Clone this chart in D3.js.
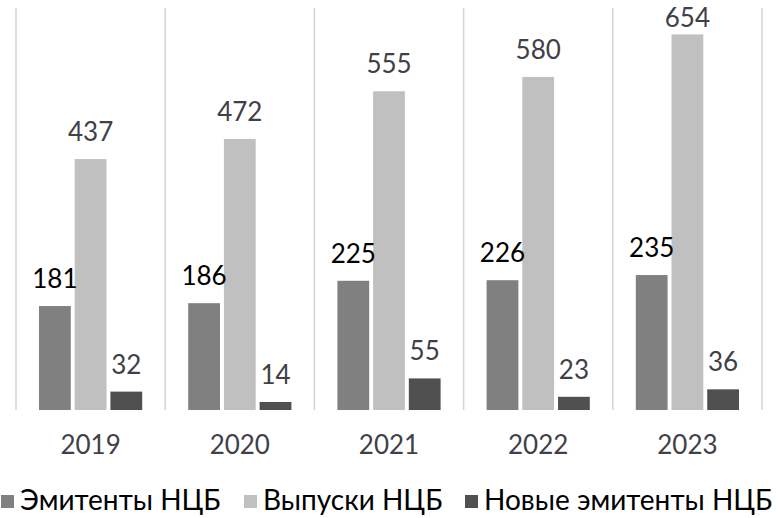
<!DOCTYPE html>
<html>
<head>
<meta charset="utf-8">
<script src="https://cdn.jsdelivr.net/npm/d3@7"></script>
<style>
  body { margin: 0; background: #fff; }
</style>
</head>
<body>
<div id="chart"></div>
<script>
var width = 782
var height = 518

// data
var years = ['2019', '2020', '2021', '2022', '2023']
var seriesNames = ['Эмитенты НЦБ', 'Выпуски НЦБ', 'Новые эмитенты НЦБ']
var issuers = [181, 186, 225, 226, 235]
var issues = [437, 472, 555, 580, 654]
var newIssuers = [32, 14, 55, 23, 36]

var seriesValues = [issuers, issues, newIssuers]
var colors = ['#808080', '#c0c0c0', '#505050']
var labelColors = ['#000000', '#404048', '#404048']

var svg = d3.select('#chart')
            .append('svg')
            .attr('width', width)
            .attr('height', height);

var x = d3.scaleBand()
          .domain(years)
          .range([16, 762])
          .paddingInner(0)
          .paddingOuter(0);

var xSub = d3.scaleBand()
             .domain(d3.range(seriesNames.length))
             .range([23, x.bandwidth() - 23])
             .paddingInner(0.11);

var y = d3.scaleLinear()
          .domain([0, 700])
          .range([410, 8]);

//////// vertical separators between categories ////////
var seps = d3.range(years.length + 1).map(function(i){ return 16 + i * x.bandwidth(); });
svg.selectAll('line.sep')
   .data(seps)
   .enter()
   .append('line')
   .attr('class', 'sep')
   .attr('x1', function(d){ return d; })
   .attr('x2', function(d){ return d; })
   .attr('y1', y(700))
   .attr('y2', y(0))
   .style('stroke', '#d4d4d4')
   .style('stroke-width', 1.5);

//////// bars ////////
var rows = [];
years.forEach(function(yr, i){
    seriesValues.forEach(function(vals, s){
        rows.push({ year: yr, s: s, value: vals[i] });
    });
});

svg.selectAll('rect.bar')
   .data(rows)
   .enter()
   .append('rect')
   .attr('class', 'bar')
   .attr('x', function(d){ return x(d.year) + xSub(d.s); })
   .attr('y', function(d){ return y(d.value); })
   .attr('width', xSub.bandwidth())
   .attr('height', function(d){ return y(0) - y(d.value); })
   .style('fill', function(d){ return colors[d.s]; });

// value labels sit above the bars, kept inside the plot at the top
svg.selectAll('text.val')
   .data(rows)
   .enter()
   .append('text')
   .attr('class', 'val')
   .attr('x', function(d){ return x(d.year) + xSub(d.s) + xSub.bandwidth() / 2; })
   .attr('y', function(d){ return Math.max(y(d.value) - 18, 27); })
   .attr('text-anchor', 'middle')
   .style('font-family', 'Lato, "Open Sans", sans-serif')
   .style('font-size', '26px')
   .style('fill', function(d){ return labelColors[d.s]; })
   .text(function(d){ return d.value; });

//////// x axis labels ////////
svg.selectAll('text.year')
   .data(years)
   .enter()
   .append('text')
   .attr('class', 'year')
   .attr('x', function(d){ return x(d) + x.bandwidth() / 2; })
   .attr('y', 454)
   .attr('text-anchor', 'middle')
   .style('font-family', 'Lato, "Open Sans", sans-serif')
   .style('font-size', '26px')
   .style('fill', '#404048')
   .text(function(d){ return d; });

//////// legend ////////
var legendX = [1, 244, 465];
var legend = svg.selectAll('g.legend')
                .data(seriesNames)
                .enter()
                .append('g')
                .attr('class', 'legend')
                .attr('transform', function(d, i){ return 'translate(' + legendX[i] + ',510)'; });

legend.append('rect')
      .attr('x', 0)
      .attr('y', -15)
      .attr('width', 13)
      .attr('height', 13)
      .style('fill', function(d, i){ return colors[i]; });

legend.append('text')
      .attr('x', 19)
      .attr('y', 0)
      .style('font-family', 'Lato, "Open Sans", sans-serif')
      .style('font-size', '28px')
      .style('fill', '#000')
      .text(function(d){ return d; });
</script>
</body>
</html>
